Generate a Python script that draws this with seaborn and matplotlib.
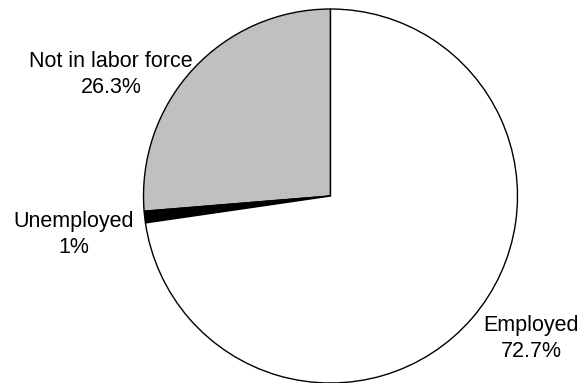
import matplotlib
matplotlib.use("Agg")
import matplotlib.pyplot as plt
import seaborn as sns

# ======================================
# DATA
# ======================================

categories = ["Not in labor force", "Unemployed", "Employed"]
shares = [26.3, 1, 72.7]
slice_colors = ["#c0c0c0", "#000000", "#ffffff"]

# label anchor points (pixels, baseline of the last line)
label_x = [111, 74, 531]
label_y = [93, 253, 357]

# ======================================
# STYLE
# ======================================

sns.set_style("white")
plt.rcParams["font.family"] = ["Liberation Sans", "DejaVu Sans"]

W, H = 588, 383

fig = plt.figure(figsize=(W / 100, H / 100), dpi=100)
ax = fig.add_axes([0, 0, 1, 1])

# ======================================
# PIE
# ======================================

ax.pie(
    shares,
    colors=slice_colors,
    startangle=90,
    counterclock=True,
    center=(330.5, H - 196),
    radius=187,
    wedgeprops={"edgecolor": "black", "linewidth": 1.0},
)

ax.set_xlim(0, W)
ax.set_ylim(0, H)
ax.set_aspect("auto")
ax.axis("off")

for name, val, x, y in zip(categories, shares, label_x, label_y):
    ax.text(
        x, H - y,
        f"{name}\n{val:g}%",
        ha="center",
        va="baseline",
        multialignment="center",
        linespacing=1.32,
        fontsize=15.5,
        color="black",
    )

fig.savefig("out.png", dpi=100, facecolor="white")
